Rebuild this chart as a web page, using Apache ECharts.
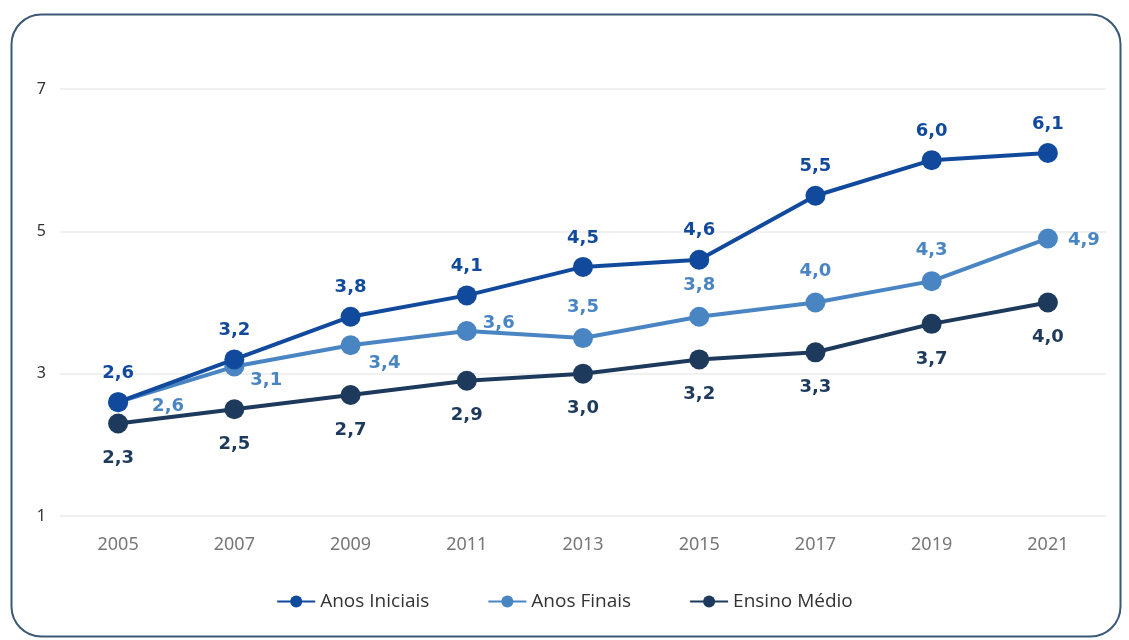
<!DOCTYPE html>
<html>
<head>
<meta charset="utf-8">
<script src="https://cdn.jsdelivr.net/npm/echarts@6/dist/echarts.min.js"></script>
<style>
html,body{margin:0;padding:0;background:#fff;}
#chart{width:1129px;height:640px;}
</style>
</head>
<body>
<div id="chart"></div>
<script>
const years = ['2005','2007','2009','2011','2013','2015','2017','2019','2021'];
const anosIniciais = [2.6, 3.2, 3.8, 4.1, 4.5, 4.6, 5.5, 6.0, 6.1];
const anosFinais = [2.6, 3.1, 3.4, 3.6, 3.5, 3.8, 4.0, 4.3, 4.9];
const ensinoMedio = [2.3, 2.5, 2.7, 2.9, 3.0, 3.2, 3.3, 3.7, 4.0];
const yTicks = [1, 3, 5, 7];

const fmt = v => v.toFixed(1).replace('.', ',');
const labelFont = {fontFamily: 'DejaVu Sans', fontWeight: 'bold', fontSize: 18};

// label placement for Anos Finais (styling only)
const finaisPlacement = [
  {position: 'right', offset: [14, 4]},
  {position: 'right', offset: [-4, 14]},
  {position: 'right', offset: [-2, 18]},
  {position: 'right', offset: [-4, -8]},
  {position: 'top', offset: [0, -2]},
  {position: 'top', offset: [0, -2]},
  {position: 'top', offset: [0, -2]},
  {position: 'top', offset: [0, -2]},
  {position: 'right', offset: [0, 2]}
];

const chart = echarts.init(document.getElementById('chart'));
chart.setOption({
  backgroundColor: '#ffffff',
  animation: false,
  graphic: [{
    type: 'rect',
    left: 9, top: 12,
    shape: {width: 1109, height: 622, r: 30},
    style: {fill: 'none', stroke: '#3b5877', lineWidth: 2},
    z: -1
  }],
  grid: {left: 60, right: 23, top: 89, bottom: 124},
  legend: {
    bottom: 24,
    left: 'center',
    itemGap: 58,
    itemWidth: 38,
    itemHeight: 15,
    textStyle: {color: '#333', fontSize: 19, fontFamily: 'Open Sans'},
    data: ['Anos Iniciais', 'Anos Finais', 'Ensino Médio']
  },
  xAxis: {
    type: 'category',
    data: years,
    boundaryGap: true,
    axisLine: {show: true, lineStyle: {color: '#f0f0f0'}},
    axisTick: {show: false},
    axisLabel: {color: '#777', fontSize: 18, fontFamily: 'Noto Sans', margin: 20}
  },
  yAxis: {
    type: 'value',
    min: 1, max: 7, interval: 2,
    axisLine: {show: false},
    axisTick: {show: false},
    splitLine: {lineStyle: {color: '#f0f0f0', width: 2}},
    axisLabel: {color: '#333', fontSize: 16, fontFamily: 'Noto Sans', margin: 14, align: 'right'}
  },
  series: [
    {
      name: 'Anos Iniciais', type: 'line', data: anosIniciais, z: 3,
      color: '#114a9c',
      symbol: 'circle', symbolSize: 20,
      lineStyle: {width: 4},
      label: Object.assign({show: true, position: 'top', distance: 10, color: '#114a9c', formatter: p => fmt(p.value)}, labelFont)
    },
    {
      name: 'Anos Finais', type: 'line', z: 2,
      data: anosFinais.map((v, i) => ({value: v, label: finaisPlacement[i]})),
      color: '#4a85c3',
      symbol: 'circle', symbolSize: 20,
      lineStyle: {width: 4},
      label: Object.assign({show: true, distance: 10, color: '#4a85c3', formatter: p => fmt(p.value)}, labelFont)
    },
    {
      name: 'Ensino Médio', type: 'line', data: ensinoMedio, z: 1,
      color: '#1d3a5c',
      symbol: 'circle', symbolSize: 20,
      lineStyle: {width: 4},
      label: Object.assign({show: true, position: 'bottom', distance: 16, color: '#1d3a5c', formatter: p => fmt(p.value)}, labelFont)
    }
  ]
});
</script>
</body>
</html>
